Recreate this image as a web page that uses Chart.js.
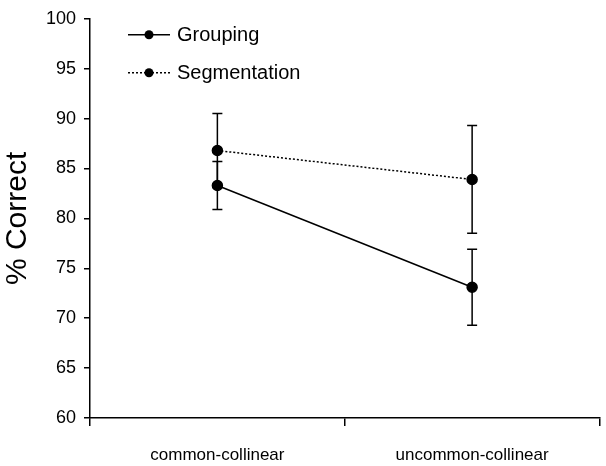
<!DOCTYPE html>
<html>
<head>
<meta charset="utf-8">
<script src="https://cdn.jsdelivr.net/npm/chart.js@4"></script>
<style>
  html, body { margin: 0; padding: 0; background: #ffffff; }
  #wrap { width: 606px; height: 466px; }
</style>
</head>
<body>
<div id="wrap"><canvas id="c" width="606" height="466"></canvas></div>
<script>
// ---- data ----
const categories = ["common-collinear", "uncommon-collinear"];
const groupingValues = [83.3, 73.1];
const groupingErrors = [2.4, 3.8];
const segmentationValues = [86.8, 83.9];
const segmentationErrors = [3.7, 5.4];
const yTicks = [60, 65, 70, 75, 80, 85, 90, 95, 100];
const seriesNames = ["Grouping", "Segmentation"];

const FONT = "'Liberation Sans', Arial, sans-serif";

const errorBarPlugin = {
  id: 'errorBars',
  afterDatasetsDraw(chart) {
    const ctx = chart.ctx;
    const y = chart.scales.y;
    chart.data.datasets.forEach((ds, di) => {
      const meta = chart.getDatasetMeta(di);
      meta.data.forEach((pt, i) => {
        const v = ds.data[i];
        const e = ds.errors[i];
        const yTop = y.getPixelForValue(v + e);
        const yBot = y.getPixelForValue(v - e);
        ctx.save();
        ctx.strokeStyle = '#000';
        ctx.lineWidth = 1.5;
        ctx.setLineDash([]);
        ctx.beginPath();
        ctx.moveTo(pt.x, yTop); ctx.lineTo(pt.x, yBot);
        ctx.moveTo(pt.x - 5, yTop); ctx.lineTo(pt.x + 5, yTop);
        ctx.moveTo(pt.x - 5, yBot); ctx.lineTo(pt.x + 5, yBot);
        ctx.stroke();
        ctx.restore();
      });
    });
  }
};

const legendPlugin = {
  id: 'customLegend',
  afterDraw(chart) {
    const ctx = chart.ctx;
    const a = chart.chartArea;
    const x0 = a.left + 38, x1 = a.left + 80;
    const rows = [a.top + 16, a.top + 54];
    chart.data.datasets.forEach((ds, i) => {
      const yy = rows[i];
      ctx.save();
      ctx.strokeStyle = '#000';
      ctx.lineWidth = 1.5;
      ctx.setLineDash(ds.borderDash || []);
      ctx.beginPath(); ctx.moveTo(x0, yy); ctx.lineTo(x1, yy); ctx.stroke();
      ctx.setLineDash([]);
      ctx.fillStyle = '#000';
      ctx.beginPath(); ctx.arc((x0 + x1) / 2, yy, 4.5, 0, Math.PI * 2); ctx.fill();
      ctx.font = "20px " + FONT;
      ctx.textBaseline = 'middle';
      ctx.textAlign = 'left';
      ctx.fillText(ds.label, x1 + 7, yy + 1);
      ctx.restore();
    });
  }
};

new Chart(document.getElementById('c'), {
  type: 'line',
  data: {
    labels: categories,
    datasets: [
      {
        label: seriesNames[0],
        data: groupingValues,
        errors: groupingErrors,
        borderColor: '#000',
        backgroundColor: '#000',
        borderWidth: 1.5,
        pointRadius: 5,
        pointBackgroundColor: '#000',
        pointBorderColor: '#000',
        tension: 0
      },
      {
        label: seriesNames[1],
        data: segmentationValues,
        errors: segmentationErrors,
        borderColor: '#000',
        backgroundColor: '#000',
        borderWidth: 1.5,
        borderDash: [2, 2],
        pointRadius: 5,
        pointBackgroundColor: '#000',
        pointBorderColor: '#000',
        tension: 0
      }
    ]
  },
  options: {
    responsive: false,
    animation: false,
    devicePixelRatio: 1,
    layout: { padding: { top: 18, right: 2, left: 0, bottom: 0 } },
    plugins: { legend: { display: false }, tooltip: { enabled: false } },
    scales: {
      x: {
        type: 'category',
        offset: true,
        grid: { display: true, offset: true, drawOnChartArea: false, drawTicks: true, tickLength: 8, color: '#000', lineWidth: 1.5 },
        border: { display: true, color: '#000', width: 1.5 },
        ticks: { color: '#000', font: { family: FONT, size: 17 }, padding: 19, maxRotation: 0 },
        afterFit(s) { s.height = 48; }
      },
      y: {
        min: 60, max: 100,
        afterBuildTicks(s) { s.ticks = yTicks.map(v => ({ value: v })); },
        grid: { display: true, drawOnChartArea: false, drawTicks: true, tickLength: 6, color: '#000', lineWidth: 1.5 },
        border: { display: true, color: '#000', width: 1.5 },
        ticks: { color: '#000', font: { family: FONT, size: 18 }, padding: 8 },
        title: { display: true, text: '% Correct', color: '#000', font: { family: FONT, size: 30 }, padding: { top: 0, bottom: 0 } },
        afterFit(s) { s.width = 90; }
      }
    }
  },
  plugins: [errorBarPlugin, legendPlugin]
});
</script>
</body>
</html>
